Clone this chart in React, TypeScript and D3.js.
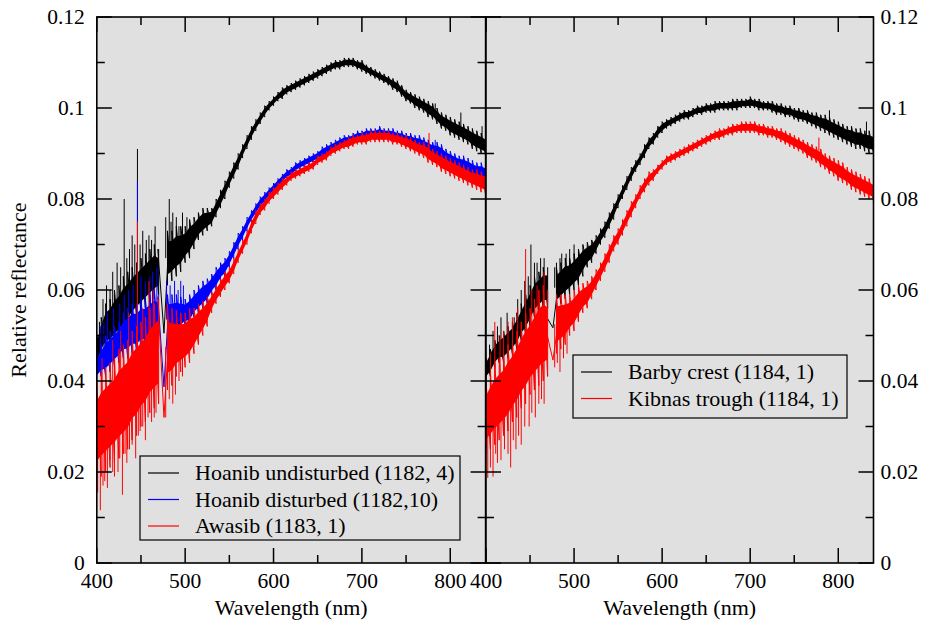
import React from 'react';
import * as d3 from 'd3';

// sampling grid of the spectra, nm (475 falls inside the detector gap)
const wavelengths = d3.range(400, 841, 5);

// reflectance x 1000: lower and upper edge of the dense part of each trace
const hoanibUndisturbedLo = [
  43, 45, 47, 47, 48, 49, 50, 51, 53, 54,
  55, 56, 57, 58, 59, null, 61, 62, 63, 64,
  66, 67, 69, 71, 72, 73, 74, 76, 78, 80,
  82.5, 84.5, 86.5, 89, 91, 93, 95, 96.5, 98, 99.5,
  100.5, 101.5, 102, 103, 103.5, 104, 104.5, 105, 105.5, 106,
  106.5, 107, 107.5, 108, 108.5, 108.5, 109, 109, 109, 108.5,
  108, 107.5, 107, 106.5, 106, 105.5, 105, 104, 103.5, 102.5,
  101.5, 101, 100, 99.5, 99, 98, 97.5, 96.5, 95.5, 95,
  94, 93.5, 93, 92.5, 92, 91, 90.5, 90, 89.5,
];
const hoanibUndisturbedHi = [
  50, 54, 57, 58, 60, 61, 63, 64, 65, 66,
  67, 68, 69, 70, 69, null, 73, 73, 74, 74,
  74, 75.5, 76, 77, 78, 78, 78, 80, 82, 84,
  86, 88, 90, 92, 94, 96, 97.5, 99, 100.5, 101.5,
  102.5, 103.5, 104.5, 105, 105.5, 106, 106.5, 107, 107.5, 108,
  108.5, 109, 109.5, 110, 110.5, 110.5, 111, 111, 111, 110.5,
  110.5, 109.5, 109, 108.5, 108, 107.5, 107, 106.5, 106, 105,
  104, 103.5, 103, 102.5, 102, 101.5, 101, 100, 99, 98.5,
  98, 97.5, 97, 96.5, 96, 95.5, 95, 94.5, 94,
];
const hoanibDisturbedLo = [
  40, 41, 41, 42, 43, 44, 45, 45, 46, 46,
  47, 47, 48, 48, 50, null, 48, 49, 50, 51,
  52, 52, 54, 55, 56, 57, 59, 60, 62, 63,
  65, 67, 69, 71, 73, 75, 76.5, 78, 79, 80.5,
  81.5, 82.5, 83.5, 84.5, 85, 86, 86.5, 87, 87.5, 88,
  88.5, 89, 89.5, 90, 90.5, 91, 91.5, 92, 92, 92.5,
  92.5, 93, 93, 93, 93, 93, 93, 92.5, 92.5, 92,
  91.5, 91, 91, 90.5, 90, 89.5, 89, 88.5, 88, 87.5,
  87, 86.5, 86, 85.5, 85, 84.5, 84, 84, 83.5,
];
const hoanibDisturbedHi = [
  46, 48, 50, 51, 52, 53, 55, 56, 57, 57,
  58, 58, 59, 60, 59, null, 59, 59, 59, 58.5,
  58, 59, 60, 61, 62, 62.5, 63.5, 65, 66, 67,
  68.5, 70.5, 72.5, 74, 76, 77.5, 79, 80.5, 81.5, 82.5,
  83.5, 84.5, 85.5, 86.5, 87, 88, 88.5, 89, 89.5, 90,
  90.5, 91.5, 92, 92.5, 93, 93.5, 94, 94, 94.5, 95,
  95, 95.5, 95.5, 95.5, 96, 95.5, 95.5, 95.5, 95, 95,
  94.5, 94.5, 94, 94, 93.5, 93, 92.5, 92.5, 92, 91,
  90.5, 90, 89.5, 89.5, 89, 88.5, 88, 88, 87.5,
];
const awasibLo = [
  18, 19, 20, 21, 22, 23, 24, 25, 27, 28,
  30, 31, 33, 34, 35, null, 38, 39, 41, 42,
  43, 44, 46, 48, 50, 52, 55, 57, 58.5, 60,
  61.5, 63.5, 66, 68, 70, 72.5, 74.5, 76.5, 77.5, 79,
  80, 81, 82, 83, 84, 84.5, 85, 85.5, 86, 86.5,
  87.5, 88, 88.5, 89.5, 90, 90.5, 91, 91, 91.5, 92,
  92, 92, 92.5, 92.5, 92.5, 92.5, 92.5, 92, 92, 91.5,
  91, 90.5, 90, 89.5, 89, 88, 87.5, 87, 86, 85.5,
  85, 84.5, 84, 83.5, 83, 82.5, 82, 81.5, 81,
];
const awasibHi = [
  40, 42, 43, 44, 45, 47, 48, 49, 51, 52,
  53, 54, 56, 57, 58, null, 57, 56, 55.5, 55,
  55, 56, 56, 57, 57.5, 58.5, 59.5, 61, 62.5, 64,
  65, 67, 69, 71, 73, 75.5, 77.5, 79, 80, 81.5,
  82.5, 83.5, 84.5, 85, 86, 86.5, 87, 87.5, 88, 88.5,
  89.5, 90, 90.5, 91.5, 92, 92.5, 93, 93.5, 94, 94,
  94.5, 94.5, 95, 95, 95, 95, 95, 94.5, 94.5, 94,
  94, 93.5, 93, 92.5, 92.5, 92, 91, 90.5, 90, 89.5,
  89, 88.5, 88, 87.5, 87, 86.5, 86.5, 86, 86,
];
const barbyCrestLo = [
  40, 41, 43, 44, 44, 45, 46, 47, 49, 50,
  52, 54, 55, 56, 56, null, 56, 57, 58, 59,
  60, 61, 63, 65, 66, 68, 70, 71.5, 73.5, 75.5,
  78, 80, 82, 84, 86, 87.5, 89, 91, 92, 93.5,
  94.5, 95.5, 96, 96.5, 97, 97.5, 97.5, 98, 98.5, 98.5,
  99, 99, 99, 99.5, 99.5, 99.5, 99.5, 99.5, 100, 100,
  100, 100, 99.5, 99.5, 99.5, 99, 98.5, 98.5, 98, 98,
  97.5, 97, 97, 96.5, 96, 95.5, 95, 94.5, 94, 93.5,
  93, 92.5, 92, 91.5, 91, 91, 90.5, 90, 90,
];
const barbyCrestHi = [
  45, 47, 49, 50, 51, 52, 53, 55, 57, 59,
  61, 63, 64, 65, 65, null, 65, 66, 67, 67,
  68, 69, 70, 70.5, 71, 72, 73.5, 75, 77, 79,
  81, 83, 85, 87, 88.5, 90, 92, 93.5, 94.5, 96,
  97, 97.5, 98, 98.5, 99, 99.5, 99.5, 100, 100.5, 100.5,
  101, 101, 101.5, 101.5, 101.5, 101.5, 102, 102, 102, 102,
  102.5, 102, 102, 101.5, 101.5, 101.5, 101, 101, 100.5, 100.5,
  100, 100, 99.5, 99.5, 99, 99, 98.5, 98.5, 98, 97.5,
  97, 96.5, 96, 96, 95.5, 95.5, 95, 95, 94.5,
];
const kibnasTroughLo = [
  24, 25, 26, 27, 28, 29, 31, 32, 34, 35,
  37, 38, 39, 40, 41, null, 46, 47, 48, 50,
  51, 53, 55, 56, 58, 60, 62, 64, 66, 68.5,
  70, 72, 74, 76, 78, 80, 81.5, 83, 84, 85.5,
  86.5, 87.5, 88, 88.5, 89, 89.5, 90, 90.5, 91, 91.5,
  92, 92.5, 93, 93, 93.5, 94, 94, 94.5, 94.5, 94.5,
  94.5, 94.5, 94, 94, 93.5, 93.5, 93, 92.5, 92, 91.5,
  91, 90.5, 90, 89, 88.5, 88, 87, 86.5, 85.5, 85,
  84, 83.5, 83, 82, 81.5, 81, 80.5, 80, 79.5,
];
const kibnasTroughHi = [
  40, 42, 44, 45, 46, 48, 49, 51, 53, 55,
  56, 58, 60, 61, 60, null, 59, 59, 59, 59,
  60, 61, 61.5, 62, 63, 64.5, 66, 68, 70, 72,
  73.5, 75.5, 77.5, 79.5, 81, 83, 84.5, 86, 86.5, 87.5,
  88.5, 89.5, 90, 90.5, 91, 91.5, 92, 92.5, 93, 93.5,
  94, 94.5, 95, 95.5, 95.5, 96, 96.5, 96.5, 97, 97,
  97, 97, 96.5, 96.5, 96, 96, 95.5, 95.5, 95, 94.5,
  94, 93.5, 93, 92.5, 92, 91.5, 91, 90, 89.5, 89,
  88.5, 88, 87, 86.5, 86, 85.5, 85, 84.5, 84,
];

// isolated noise spikes [nm, reflectance x 1000]
const hoanibUndisturbedSpikes = [
  [403, 53], [407, 58], [411, 61], [415, 60], [418, 64], [423, 66], [427, 65], [431, 80],
  [434, 67], [437, 69], [440, 72], [443, 70], [446, 91], [449, 70], [452, 73], [456, 71],
  [459, 72], [462, 71], [466, 74], [478, 76], [482, 80], [484, 75], [486, 77], [490, 76],
  [493, 74], [497, 77], [502, 76], [783, 101], [812, 99], [836, 96],
];
const hoanibDisturbedSpikes = [
  [404, 52], [408, 53], [412, 55], [419, 56], [426, 57], [431, 59], [436, 60], [441, 61],
  [446, 84], [450, 63], [455, 62], [460, 63], [463, 64], [468, 65], [479, 62], [483, 61],
  [488, 62], [492, 60], [495, 62], [498, 61], [783, 93],
];
const awasibSpikes = [
  [406, 45], [418, 49], [427, 51], [436, 55], [446, 75], [452, 56], [459, 62], [464, 60],
  [401, 15.5], [404, 11.6], [407, 17], [409, 18], [412, 16.5], [415, 22.6], [418, 20],
  [420, 19], [424, 20], [426, 23], [429, 15], [432, 24], [434, 22], [437, 25], [440, 26],
  [444, 23], [447, 28], [449, 29], [452, 30], [455, 27], [458, 32], [462, 31], [465, 32],
  [467, 33], [478, 32], [482, 36], [486, 35], [489, 37], [493, 40], [497, 41], [776, 94.5],
];
const barbyCrestSpikes = [
  [404, 48], [408, 51], [413, 52], [417, 54], [424, 55], [432, 54], [436, 58], [440, 60],
  [444, 62], [448, 63], [451, 70], [455, 66], [458, 66], [462, 67], [466, 67], [478, 65],
  [480, 66], [484, 67], [486, 68], [491, 68], [495, 69], [500, 70], [790, 99.5], [832, 97],
];
const kibnasTroughSpikes = [
  [405, 46], [410, 53], [416, 50], [420, 51], [425, 53], [430, 54], [436, 56], [445, 69],
  [452, 60], [458, 61], [466, 64], [402, 18.7], [405, 21], [408, 19], [411, 24], [413, 22],
  [417, 22.6], [421, 25], [425, 24], [428, 21], [431, 27], [434, 25], [437, 28], [440, 26],
  [444, 30], [449, 30], [452, 33], [456, 32], [460, 35], [463, 36], [466, 35], [478, 43],
  [481, 44], [484, 42], [488, 45], [492, 46], [778, 93.5],
];

// straight segment the plotting program drew across the detector gap
const hoanibUndisturbedGap = [[469, 69], [476, 50.5], [480, 65]];
const hoanibDisturbedGap = [[469, 58.5], [476, 38.7], [480, 52]];
const awasibGap = [[469, 58.5], [476, 32], [480, 45]];
const barbyCrestGap = [[469, 54], [476, 51.7], [480, 58]];
const kibnasTroughGap = [[469, 50.5], [476, 44.6], [480, 50]];

const xMajorTicks = [400, 500, 600, 700, 800];
const xMinorTicks = [450, 550, 650, 750];
const yMajorTicks = [0, 0.02, 0.04, 0.06, 0.08, 0.1, 0.12];
const yMinorTicks = [0.01, 0.03, 0.05, 0.07, 0.09, 0.11];

type Series = {
  name: string; color: string; lo: (number | null)[]; hi: (number | null)[];
  spikes: number[][]; gap: number[][];
};

const leftSeries: Series[] = [
  { name: 'Hoanib undisturbed (1182, 4)', color: '#000000', lo: hoanibUndisturbedLo, hi: hoanibUndisturbedHi, spikes: hoanibUndisturbedSpikes, gap: hoanibUndisturbedGap },
  { name: 'Hoanib disturbed (1182,10)', color: '#0000ff', lo: hoanibDisturbedLo, hi: hoanibDisturbedHi, spikes: hoanibDisturbedSpikes, gap: hoanibDisturbedGap },
  { name: 'Awasib (1183, 1)', color: '#ff0000', lo: awasibLo, hi: awasibHi, spikes: awasibSpikes, gap: awasibGap },
];
const rightSeries: Series[] = [
  { name: 'Barby crest (1184, 1)', color: '#000000', lo: barbyCrestLo, hi: barbyCrestHi, spikes: barbyCrestSpikes, gap: barbyCrestGap },
  { name: 'Kibnas trough (1184, 1)', color: '#ff0000', lo: kibnasTroughLo, hi: kibnasTroughHi, spikes: kibnasTroughSpikes, gap: kibnasTroughGap },
];

const W = 932;
const H = 623;
const plotTop = 17;
const plotBottom = 563;
const FONT = "'Liberation Serif', 'Times New Roman', Times, 'DejaVu Serif', serif";
const BG = '#e0e0e0';
const MAJOR = 15;
const MINOR = 8;
const TICK_FS = 21.5;
const TEXT_FS = 22;

const y = d3.scaleLinear().domain([0, 0.12]).range([plotBottom, plotTop]);
const fmtY = (v: number) => (v === 0 ? '0' : String(+v.toFixed(2)));

// middle of the dense band nearest to a wavelength (spikes hang off it)
function bandMid(s: Series, w: number) {
  let i = Math.round((w - 400) / 5);
  if (s.lo[i] == null) i = w < 475 ? i - 1 : i + 1;
  return ((s.lo[i] as number) + (s.hi[i] as number)) / 2000;
}

function Panel({ id, x0, x1, series, side, legend }: {
  id: string; x0: number; x1: number; series: Series[]; side: 'left' | 'right';
  legend: { x: number; y: number; w: number; h: number };
}) {
  const x = d3.scaleLinear().domain([400, 840]).range([x0, x1]);
  const idx = wavelengths.map((_, i) => i);
  const line = d3.line<number[]>().x(d => x(d[0])).y(d => y(d[1] / 1000));
  const rowH = 26.5;

  return (
    <g>
      <defs>
        <clipPath id={id}>
          <rect x={x0} y={plotTop} width={x1 - x0} height={plotBottom - plotTop} />
        </clipPath>
      </defs>
      <rect x={x0} y={plotTop} width={x1 - x0} height={plotBottom - plotTop} fill={BG} />
      <g clipPath={`url(#${id})`}>
        {series.map(s => {
          const ok = (i: number) => s.lo[i] != null && s.hi[i] != null;
          const lo = (i: number) => (s.lo[i] as number) / 1000;
          const hi = (i: number) => (s.hi[i] as number) / 1000;
          // solid core of the band
          const core = d3.area<number>().defined(ok).x(i => x(wavelengths[i]))
            .y0(i => y(lo(i) + (hi(i) - lo(i)) * 0.2))
            .y1(i => y(hi(i) - (hi(i) - lo(i)) * 0.2));
          // ragged edge: a stroke from lo to hi at every sample
          const ragged = d3.line<[number, number]>().defined(d => !isNaN(d[1]))
            .x(d => x(d[0])).y(d => y(d[1]));
          const pts = idx.flatMap(i => (ok(i)
            ? [[wavelengths[i], lo(i)], [wavelengths[i], hi(i)]]
            : [[wavelengths[i], NaN]]) as [number, number][]);
          return (
            <g key={s.name} stroke={s.color} strokeWidth={1}>
              <path d={core(idx) || ''} fill={s.color} stroke="none" />
              <path d={ragged(pts) || ''} fill="none" />
              <path d={line(s.gap) || ''} fill="none" />
              {s.spikes.map(([w, v], k) => (
                <line key={k} x1={x(w)} x2={x(w)} y1={y(v / 1000)} y2={y(bandMid(s, w))} />
              ))}
            </g>
          );
        })}
      </g>

      {/* ticks, all pointing inward */}
      <g stroke="#000" strokeWidth={1.5}>
        {xMajorTicks.map(t => (
          <g key={'xM' + t}>
            <line x1={x(t)} x2={x(t)} y1={plotBottom} y2={plotBottom - MAJOR} />
            <line x1={x(t)} x2={x(t)} y1={plotTop} y2={plotTop + MAJOR} />
          </g>
        ))}
        {xMinorTicks.map(t => (
          <g key={'xm' + t}>
            <line x1={x(t)} x2={x(t)} y1={plotBottom} y2={plotBottom - MINOR} />
            <line x1={x(t)} x2={x(t)} y1={plotTop} y2={plotTop + MINOR} />
          </g>
        ))}
        {yMajorTicks.map(t => (
          <g key={'yM' + t}>
            <line x1={x0} x2={x0 + MAJOR} y1={y(t)} y2={y(t)} />
            <line x1={x1} x2={x1 - MAJOR} y1={y(t)} y2={y(t)} />
          </g>
        ))}
        {yMinorTicks.map(t => (
          <g key={'ym' + t}>
            <line x1={x0} x2={x0 + MINOR} y1={y(t)} y2={y(t)} />
            <line x1={x1} x2={x1 - MINOR} y1={y(t)} y2={y(t)} />
          </g>
        ))}
      </g>
      <rect x={x0} y={plotTop} width={x1 - x0} height={plotBottom - plotTop}
        fill="none" stroke="#000" strokeWidth={1.6} />

      {/* tick labels */}
      <g style={{ fontFamily: FONT }} fill="#000">
        {xMajorTicks.map(t => (
          <text key={'xl' + t} x={x(t)} y={588} textAnchor="middle" fontSize={TICK_FS}>{t}</text>
        ))}
        {yMajorTicks.map(t => (
          <text key={'yl' + t} x={side === 'left' ? x0 - 12 : x1 + 7} y={y(t) + 7} fontSize={TICK_FS}
            textAnchor={side === 'left' ? 'end' : 'start'}>{fmtY(t)}</text>
        ))}
        <text x={(x0 + x1) / 2} y={615} textAnchor="middle" fontSize={TEXT_FS}>Wavelength (nm)</text>
      </g>

      {/* legend */}
      <g style={{ fontFamily: FONT }} fontSize={TEXT_FS}>
        <rect x={legend.x} y={legend.y} width={legend.w} height={legend.h}
          fill={BG} stroke="#000" strokeWidth={1.2} />
        {series.map((s, i) => {
          const ry = legend.y + 17 + i * rowH;
          return (
            <g key={'lg' + s.name}>
              <line x1={legend.x + 8} x2={legend.x + 39} y1={ry} y2={ry} stroke={s.color} strokeWidth={1.2} />
              <text x={legend.x + 55} y={ry + 7} fill="#000">{s.name}</text>
            </g>
          );
        })}
      </g>
    </g>
  );
}

export default function App() {
  return (
    <svg width={W} height={H} viewBox={`0 0 ${W} ${H}`}
      style={{ position: 'absolute', left: 0, top: 0, background: '#fff', fontFamily: FONT }}>
      <rect x={0} y={0} width={W} height={H} fill="#fff" />
      <Panel id="clipL" x0={96.8} x1={485.6} series={leftSeries} side="left"
        legend={{ x: 140, y: 456, w: 320, h: 84 }} />
      <Panel id="clipR" x0={486} x1={873.5} series={rightSeries} side="right"
        legend={{ x: 573, y: 355, w: 274, h: 63 }} />
      <text transform="translate(26,290) rotate(-90)" textAnchor="middle"
        style={{ fontFamily: FONT }} fontSize={TEXT_FS} fill="#000">Relative reflectance</text>
    </svg>
  );
}
